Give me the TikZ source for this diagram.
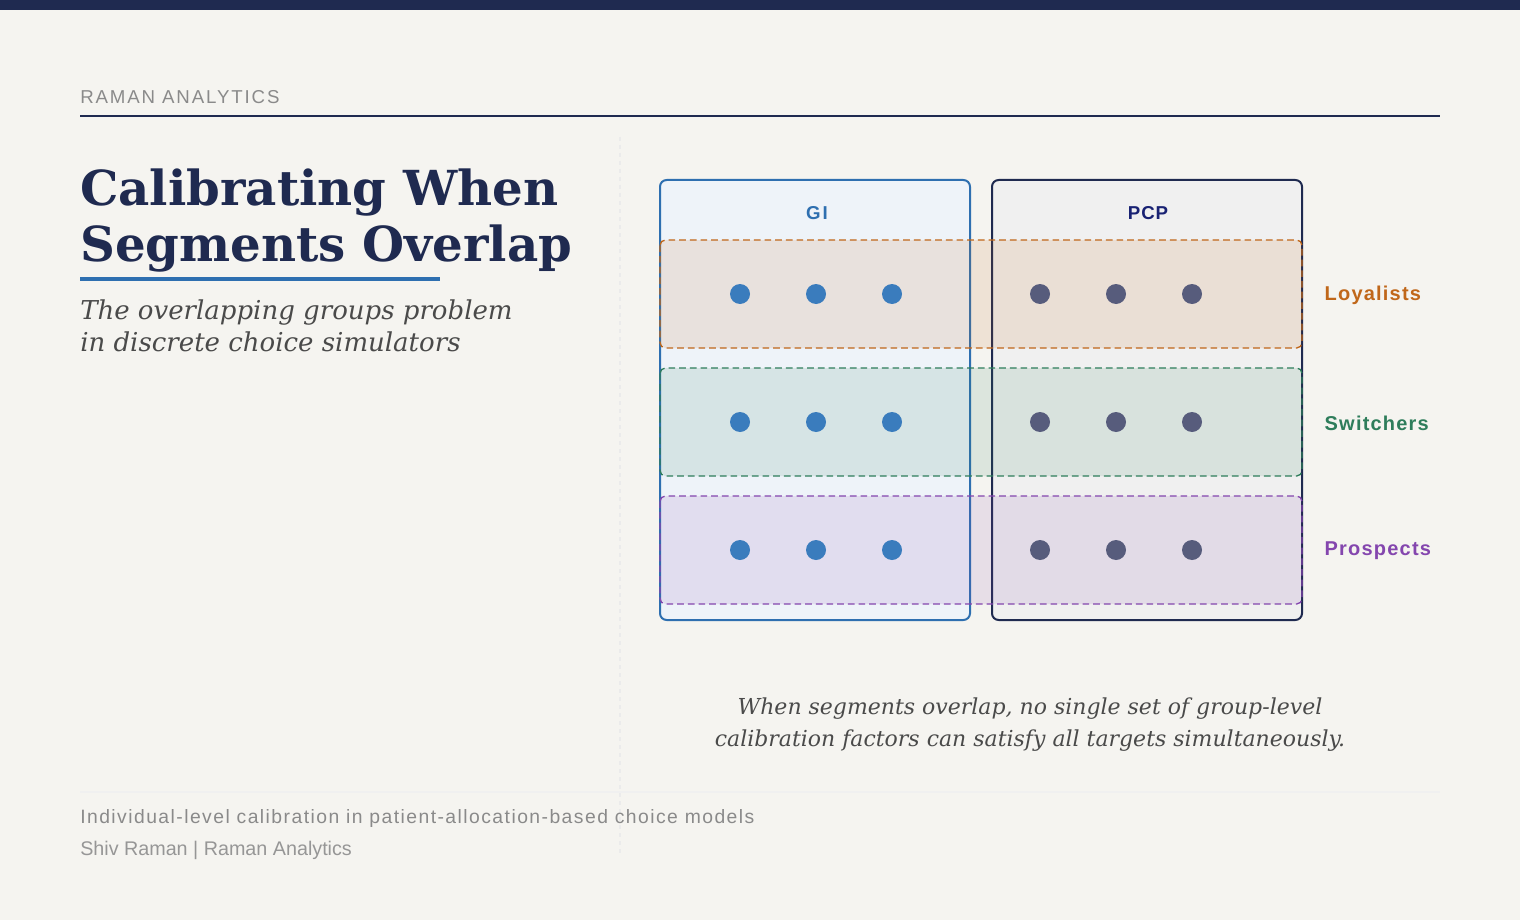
\documentclass[tikz,border=0pt]{standalone}
\usepackage{fontspec}
\setmainfont{DejaVu Serif}
\setsansfont{Liberation Sans}
\usepackage{tikz}
\definecolor{bg}{HTML}{F5F4F0}
\definecolor{navy}{HTML}{1F2A50}
\definecolor{gi}{HTML}{2E6FB0}
\definecolor{dotgi}{HTML}{3A7CBD}
\definecolor{dotpcp}{HTML}{575C7C}
\definecolor{loyal}{HTML}{C0671A}
\definecolor{switch}{HTML}{2E7D5B}
\definecolor{prosp}{HTML}{8446AE}
\definecolor{greytxt}{HTML}{8A8A8A}
\definecolor{captxt}{HTML}{4A4A4A}
\newcommand{\spaced}[1]{\addfontfeature{LetterSpace=#1}}

\begin{document}
\begin{tikzpicture}[x=0.75pt,y=-0.75pt,
  group/.style={draw=#1,line width=1.5pt,rounded corners=5pt},
  band/.style={draw=#1,fill=#1,fill opacity=0.12,draw opacity=1,dashed,line width=1pt,
    dash pattern=on 5pt off 3pt,rounded corners=4pt},
  seglabel/.style={anchor=west,font=\sffamily\bfseries\fontsize{15}{18}\selectfont\spaced{6},text=#1},
  dot/.style={circle,fill=#1,minimum size=15pt,inner sep=0pt}]

\fill[bg] (0,0) rectangle (1520,920);
\useasboundingbox (0,0) rectangle (1520,920);
\fill[navy] (0,0) rectangle (1520,10);

\node[anchor=base west,inner sep=0,text=greytxt,font=\sffamily\fontsize{14}{16}\selectfont\spaced{10}] (brand) at (80,104) {RAMAN ANALYTICS};
\draw[navy,line width=1.5pt] (80,116) -- (1440,116);

\node[anchor=base west,inner sep=0,text=navy,font=\bfseries\fontsize{36.2}{42}\selectfont] (title) at (80,205) {Calibrating When};
\node[anchor=base west,inner sep=0,text=navy,font=\bfseries\fontsize{36.2}{42}\selectfont] (title2) at (80,261) {Segments Overlap};
\draw[gi,line width=2.5pt] (80,279) -- (440,279);
\node[anchor=base west,inner sep=0,text=captxt,font=\itshape\fontsize{19.5}{24}\selectfont] (sub) at (80,319) {The overlapping groups problem};
\node[anchor=base west,inner sep=0,text=captxt,font=\itshape\fontsize{19.5}{24}\selectfont] (sub2) at (80,351) {in discrete choice simulators};

\draw[black!8,dashed,line width=0.8pt] (620,137) -- (620,855);

% groups
\draw[group=gi,fill=gi!8] (660,180) rectangle (970,620);
\draw[group=navy,fill=black!6] (992,180) rectangle (1302,620);
\node[text=gi,font=\sffamily\bfseries\fontsize{14}{16}\selectfont\spaced{10}] (gilab) at (817,213) {GI};
\node[text=navy!80!blue,font=\sffamily\bfseries\fontsize{14}{16}\selectfont\spaced{5}] (pcplab) at (1148,213) {PCP};

% segments
\draw[band=loyal] (660,240) rectangle (1302,348);
\draw[band=switch] (660,368) rectangle (1302,476);
\draw[band=prosp] (660,496) rectangle (1302,604);
\node[seglabel=loyal] (loy) at (1320,295) {Loyalists};
\node[seglabel=switch] (swi) at (1320,423) {Switchers};
\node[seglabel=prosp] (pro) at (1320,551) {Prospects};

\foreach \y in {294,422,550}{
  \foreach \x in {740,816,892}
    \node[dot=dotgi] at (\x,\y) {};
  \foreach \x in {1040,1116,1192}
    \node[dot=dotpcp] at (\x,\y) {};
}

\node[text=captxt,align=center,font=\itshape\fontsize{16.5}{24}\selectfont] (cap) at (1030,725) {When segments overlap, no single set of group-level\\calibration factors can satisfy all targets simultaneously.};

\draw[black!6,line width=0.8pt] (80,792) -- (1440,792);
\node[anchor=base west,inner sep=0,text=greytxt,font=\sffamily\fontsize{14.5}{16}\selectfont\spaced{7.5}] (foot) at (80,823) {Individual-level calibration in patient-allocation-based choice models};
\node[anchor=base west,inner sep=0,text=greytxt!90,font=\sffamily\fontsize{14.8}{16}\selectfont] (foot2) at (80,855) {Shiv Raman | Raman Analytics};
\end{tikzpicture}
\end{document}
